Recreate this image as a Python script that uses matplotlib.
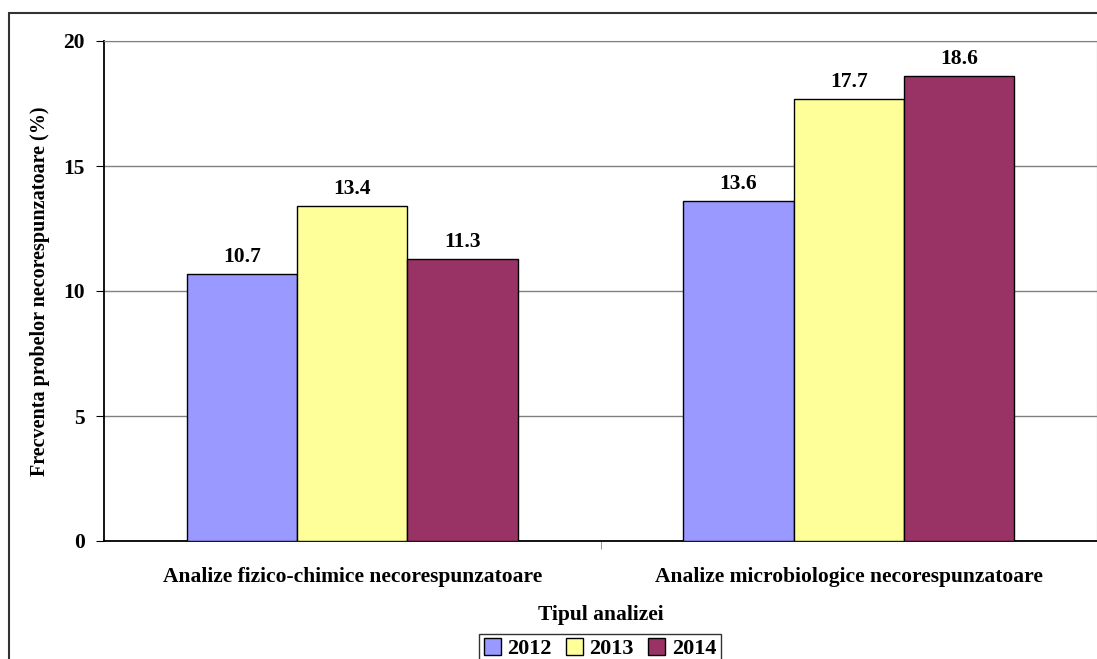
import numpy as np
import matplotlib.pyplot as plt
from matplotlib.patches import Rectangle

# data
categories = ["Analize fizico-chimice necorespunzatoare",
              "Analize microbiologice necorespunzatoare"]
years = ["2012", "2013", "2014"]
values_2012 = [10.7, 13.6]
values_2013 = [13.4, 17.7]
values_2014 = [11.3, 18.6]
colors = ["#9999FF", "#FFFF99", "#993366"]

plt.rcParams["font.family"] = ["Liberation Serif", "DejaVu Serif"]
plt.rcParams["font.weight"] = "bold"

dpi = 100
fig = plt.figure(figsize=(1097/dpi, 659/dpi), dpi=dpi)

# outer chart border (cut at right and bottom like the reference)
fig.patches.append(Rectangle((9/1097, -0.05), 1.2, 1 - 13/659 + 0.05,
                             transform=fig.transFigure, fill=False,
                             edgecolor="#333333", linewidth=1.5))

ax = fig.add_axes([104/1097, 1 - 541/659, 993/1097, 500/659])

x = np.arange(len(categories))
width = 0.222
series = [values_2012, values_2013, values_2014]
for i, (vals, col, yr) in enumerate(zip(series, colors, years)):
    bars = ax.bar(x + (i - 1) * width, vals, width, color=col,
                  edgecolor="black", linewidth=1, label=yr, zorder=3)
    for b, v in zip(bars, vals):
        ax.annotate(f"{v:.1f}", (b.get_x() + b.get_width() / 2, v),
                    xytext=(0, 5), textcoords="offset points",
                    ha="center", va="bottom", fontsize=15.5, fontweight="bold")

ax.set_xlim(-0.5, 1.5)
ax.set_ylim(0, 20)
ax.set_yticks([0, 5, 10, 15, 20])
ax.yaxis.grid(True, color="#808080", linewidth=1, zorder=0)
ax.set_axisbelow(True)

ax.set_xticks([0.5], minor=True)
ax.set_xticks(x)
ax.set_xticklabels(categories, fontsize=15.5, fontweight="bold")
ax.tick_params(axis="x", which="major", length=0, pad=19)
ax.tick_params(axis="x", which="minor", length=6, color="#808080")
ax.tick_params(axis="y", length=6, labelsize=15.5, pad=8)
for lbl in ax.get_yticklabels():
    lbl.set_fontweight("bold")

for side in ["top", "right"]:
    ax.spines[side].set_color("#808080")
ax.spines["left"].set_linewidth(1.3)
ax.spines["bottom"].set_linewidth(1.3)

ax.set_xlabel("Tipul analizei", fontsize=15.5, fontweight="bold", labelpad=13)
ax.set_ylabel("Frecventa probelor necorespunzatoare (%)", fontsize=14.5,
              fontweight="bold", labelpad=9)

leg = fig.legend(loc="upper center", bbox_to_anchor=(600/1097, 1 - 634/659),
                 ncol=3, frameon=True, fancybox=False,
                 edgecolor="black", handlelength=0.75, handleheight=0.75,
                 handletextpad=0.3, columnspacing=0.65, borderpad=0.2,
                 borderaxespad=0, prop={"weight": "bold", "size": 16})
leg.get_frame().set_linewidth(1)

fig.savefig("out.png", dpi=dpi)
